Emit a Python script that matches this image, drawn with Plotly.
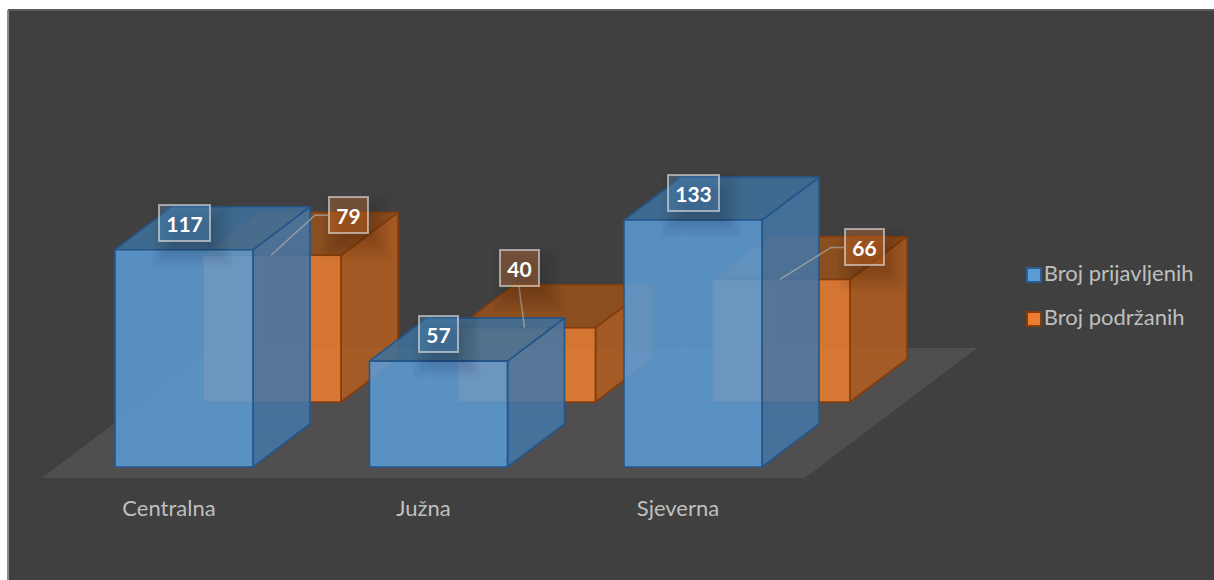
import plotly.graph_objects as go

categories = ["Centralna", "Južna", "Sjeverna"]
series_names = ["Broj prijavljenih", "Broj podržanih"]
prijavljeni = [117, 57, 133]
podrzani = [79, 40, 66]
label_dx_podrzani = [76.5, -7.5, 83.5]
label_dy_podrzani = [-40, -60, -32]

# Oblique projection, in pixels of the axis space
PX_PER_UNIT = 1.857
BASE_Y_PX = 467
FIRST_X = 115
GROUP_STEP = 254.5
BAR_W = 138
DEPTH_X, DEPTH_Y = 57, 43
ROW_X, ROW_Y = 88, 65
BG = "#404040"
FONT = "Lato, sans-serif"


def u(px):
    """pixel distance -> value units"""
    return px / PX_PER_UNIT


def yv(py):
    return (BASE_Y_PX - py) / PX_PER_UNIT


A_FRONT, A_BACK = 0.7, 0.55


def rgba(h, a):
    h = h.lstrip("#")
    return f"rgba({int(h[:2],16)},{int(h[2:4],16)},{int(h[4:],16)},{a})"


fig = go.Figure()


def poly(xs, ys, fill, line=None, lw=0):
    fig.add_trace(go.Scatter(
        x=xs + xs[:1], y=ys + ys[:1], mode="lines", fill="toself", fillcolor=fill,
        line=dict(color=line or "rgba(0,0,0,0)", width=lw), hoverinfo="skip", showlegend=False))


def bar(x0, base, v, front, side, top, edge, inner):
    w = BAR_W
    dx, dy = DEPTH_X, u(DEPTH_Y)
    t = base + v
    # hidden faces
    poly([x0 + dx, x0 + dx + w, x0 + dx + w, x0 + dx], [base + dy, base + dy, t + dy, t + dy],
         rgba(front, A_BACK), inner, 1)
    poly([x0, x0 + dx, x0 + dx, x0], [base, base + dy, t + dy, t], rgba(front, A_BACK), inner, 1)
    poly([x0, x0 + w, x0 + w + dx, x0 + dx], [base, base, base + dy, base + dy], rgba(front, A_BACK), inner, 1)
    # visible faces
    poly([x0 + w, x0 + w + dx, x0 + w + dx, x0 + w], [base, base + dy, t + dy, t], rgba(side, A_FRONT), edge, 1.6)
    poly([x0, x0 + w, x0 + w + dx, x0 + dx], [t, t, t + dy, t + dy], rgba(top, A_FRONT), edge, 1.6)
    poly([x0, x0 + w, x0 + w, x0], [base, base, t, t], rgba(front, A_FRONT), edge, 1.6)


# floor
poly([42, 805, 977, 214], [yv(478), yv(478), yv(348), yv(348)], "#504e4e")

# back row first, then front row
for i, v in enumerate(podrzani):
    bar(FIRST_X + ROW_X + i * GROUP_STEP, u(ROW_Y), v, "#ED7D31", "#A4561B", "#814615", "#843C0C",
        "rgba(237,125,49,0.25)")
for i, v in enumerate(prijavljeni):
    bar(FIRST_X + i * GROUP_STEP, 0, v, "#5B9BD5", "#3E6E9C", "#37678F", "#24568A",
        "rgba(91,155,213,0.25)")

annotations = []
shapes = []
BOX_H = 38


def add_label(cx, cy_val, val, w, tint):
    # soft offset shadow
    for k in range(12):
        g = -10 + k * 2.2
        shapes.append(dict(type="rect", xref="x", yref="y", layer="above",
                           x0=cx - w / 2 + 8 - g, x1=cx + w / 2 + 8 + g,
                           y0=cy_val - u(19 + 11 + g), y1=cy_val + u(19 - 11 + g),
                           fillcolor="rgba(0,0,0,0.017)", line=dict(width=0)))
    annotations.append(dict(
        x=cx, y=cy_val, xref="x", yref="y", text=f"<b>{val}</b>", showarrow=False,
        xanchor="center", yanchor="middle", width=w - 4, height=BOX_H - 4,
        bgcolor=rgba(tint, 0.3), bordercolor="rgba(225,225,225,0.62)", borderwidth=2, borderpad=0,
        font=dict(family=FONT, size=21, color="white")))


for i, v in enumerate(prijavljeni):
    add_label(FIRST_X + i * GROUP_STEP + 69, v + u(27), v, 53 if v >= 100 else 41, "#5B9BD5")

for i, v in enumerate(podrzani):
    sx = FIRST_X + ROW_X + i * GROUP_STEP + BAR_W / 2
    sy = u(ROW_Y) + v
    cx = sx + label_dx_podrzani[i]
    cy = sy - u(label_dy_podrzani[i])
    # leader line
    if label_dx_podrzani[i] > 0:
        ex = cx - 20.5
        xs, ys = [sx - 1, ex - 13, ex], [sy, cy, cy]
    else:
        xs, ys = [sx - 2, cx], [sy, cy - u(19)]
    fig.add_trace(go.Scatter(x=xs, y=ys, mode="lines", line=dict(color="rgba(170,170,170,0.75)", width=1.5),
                             hoverinfo="skip", showlegend=False))
    add_label(cx, cy, v, 41, "#ED7D31")

# category labels
fig.add_trace(go.Scatter(
    x=[FIRST_X + 54 + i * GROUP_STEP for i in range(len(categories))],
    y=[yv(510)] * len(categories), text=categories, mode="text",
    textfont=dict(family=FONT, size=22, color="#BFBFBF"),
    hoverinfo="skip", showlegend=False))

# legend keys and names
for k, (name, c, e) in enumerate(zip(series_names, ["#5B9BD5", "#ED7D31"], ["#2A5F94", "#843C0C"])):
    fig.add_trace(go.Scatter(
        x=[1034], y=[yv(275 + 44 * k)], mode="markers+text", name=name, text=[name],
        textposition="middle right", textfont=dict(family=FONT, size=22, color="#BFBFBF"),
        marker=dict(symbol="square", size=14, color=c, line=dict(color=e, width=2)),
        hoverinfo="skip", showlegend=False))

# chart-area edge
shapes.append(dict(type="line", xref="paper", yref="paper", x0=0, x1=0, y0=0, y1=1,
                   line=dict(color="#8c8c8c", width=2)))
shapes.append(dict(type="line", xref="paper", yref="paper", x0=0, x1=1, y0=1, y1=1,
                   line=dict(color="#5c5c5c", width=2)))

fig.update_layout(
    width=1214, height=580, margin=dict(l=8, t=10, r=0, b=0, pad=0),
    paper_bgcolor="white", plot_bgcolor=BG, showlegend=False,
    xaxis=dict(visible=False, range=[8, 1214], fixedrange=True),
    yaxis=dict(visible=False, range=[yv(580), yv(10)], fixedrange=True),
    annotations=annotations, shapes=shapes,
)
fig.write_html("out.html", post_script="document.body.style.margin='0';document.body.style.overflow='hidden';",
               config=dict(displayModeBar=False))
